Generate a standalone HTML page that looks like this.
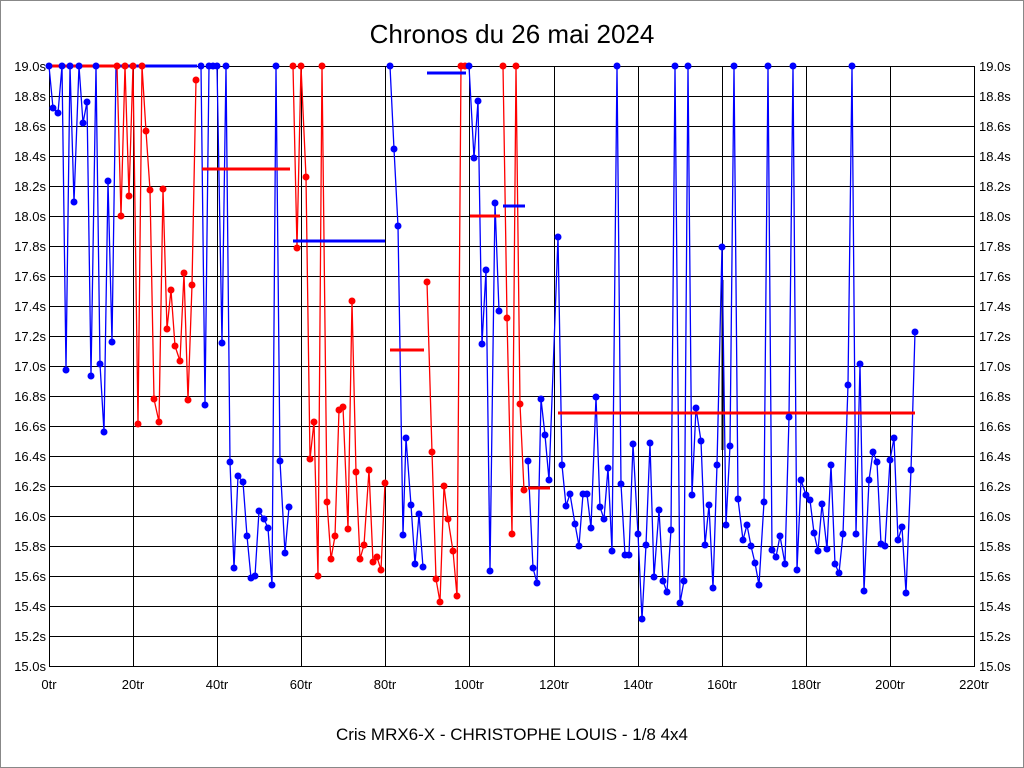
<!DOCTYPE html>
<html><head><meta charset="utf-8"><style>
html,body{margin:0;padding:0;background:#fff}
svg{display:block}
text{font-family:"Liberation Sans",Arial,sans-serif}
</style></head><body>
<svg width="1024" height="768" viewBox="0 0 1024 768" xmlns="http://www.w3.org/2000/svg">
<rect x="0.5" y="0.5" width="1023" height="767" fill="#fff" stroke="#888"/>
<text x="512" y="43" font-size="26" text-anchor="middle">Chronos du 26 mai 2024</text>
<text x="512" y="740" font-size="17" text-anchor="middle">Cris MRX6-X - CHRISTOPHE LOUIS - 1/8 4x4</text>
<g stroke="#000" stroke-width="1">
<rect x="49.5" y="66.5" width="925" height="600" fill="none"/>
<path d="M49 96.5H974M49 126.5H974M49 156.5H974M49 186.5H974M49 216.5H974M49 246.5H974M49 276.5H974M49 306.5H974M49 336.5H974M49 366.5H974M49 396.5H974M49 426.5H974M49 456.5H974M49 486.5H974M49 516.5H974M49 546.5H974M49 576.5H974M49 606.5H974M49 636.5H974"/>
<path d="M133.5 66V666M217.5 66V666M301.5 66V666M385.5 66V666M469.5 66V666M554.5 66V666M638.5 66V666M722.5 66V666M806.5 66V666M890.5 66V666"/>
<path d="M722.5 280V450" stroke-width="2"/>
</g>
<g font-size="13" text-anchor="end">
<text x="46" y="71">19.0s</text><text x="46" y="101">18.8s</text><text x="46" y="131">18.6s</text><text x="46" y="161">18.4s</text><text x="46" y="191">18.2s</text><text x="46" y="221">18.0s</text><text x="46" y="251">17.8s</text><text x="46" y="281">17.6s</text><text x="46" y="311">17.4s</text><text x="46" y="341">17.2s</text><text x="46" y="371">17.0s</text><text x="46" y="401">16.8s</text><text x="46" y="431">16.6s</text><text x="46" y="461">16.4s</text><text x="46" y="491">16.2s</text><text x="46" y="521">16.0s</text><text x="46" y="551">15.8s</text><text x="46" y="581">15.6s</text><text x="46" y="611">15.4s</text><text x="46" y="641">15.2s</text><text x="46" y="671">15.0s</text>
</g>
<g font-size="13" text-anchor="start">
<text x="979" y="71">19.0s</text><text x="979" y="101">18.8s</text><text x="979" y="131">18.6s</text><text x="979" y="161">18.4s</text><text x="979" y="191">18.2s</text><text x="979" y="221">18.0s</text><text x="979" y="251">17.8s</text><text x="979" y="281">17.6s</text><text x="979" y="311">17.4s</text><text x="979" y="341">17.2s</text><text x="979" y="371">17.0s</text><text x="979" y="401">16.8s</text><text x="979" y="431">16.6s</text><text x="979" y="461">16.4s</text><text x="979" y="491">16.2s</text><text x="979" y="521">16.0s</text><text x="979" y="551">15.8s</text><text x="979" y="581">15.6s</text><text x="979" y="611">15.4s</text><text x="979" y="641">15.2s</text><text x="979" y="671">15.0s</text>
</g>
<g font-size="13" text-anchor="middle">
<text x="49" y="689">0tr</text><text x="133" y="689">20tr</text><text x="217" y="689">40tr</text><text x="301" y="689">60tr</text><text x="385" y="689">80tr</text><text x="469" y="689">100tr</text><text x="554" y="689">120tr</text><text x="638" y="689">140tr</text><text x="722" y="689">160tr</text><text x="806" y="689">180tr</text><text x="890" y="689">200tr</text><text x="974" y="689">220tr</text>
</g>
<g fill="none" stroke-width="1.3" stroke-linejoin="round">
<g stroke="#00f" id="bl">
<polyline points="49,66 53,108 58,113 62,66 66,370 70,66 74,202 79,66 83,123 87,102 91,376 96,66 100,364 104,432 108,181 112,342 116,66"/>
<polyline points="201,66 205,405 209,66 213,66 217,66 222,343 226,66 230,462 234,568 238,476 243,482 247,536 251,578 255,576 259,511 264,519 268,528 272,585 276,66 280,461 285,553 289,507"/>
<polyline points="390,66 394,149 398,226 403,535 406,438 411,505 415,564 419,514 423,567"/>
<polyline points="469,66 474,158 478,101 482,344 486,270 490,571 495,203 499,311"/>
<polyline points="528,461 533,568 537,583 541,399 545,435 549,480 558,237 562,465 566,506 570,494 575,524 579,546 583,494 587,494 591,528 596,397 600,507 604,519 608,468 612,551 617,66 621,484 625,555 629,555 633,444 638,534 642,619 646,545 650,443 654,577 659,510 663,581 667,592 671,530 675,66 680,603 684,581 688,66 692,495 696,408 701,441 705,545 709,505 713,588 717,465 722,247 726,525 730,446 734,66 738,499 743,540 747,525 751,546 755,563 759,585 764,502 768,66 772,550 776,557 780,536 785,564 789,417 793,66 797,570 801,480 806,495 810,500 814,533 818,551 822,504 827,549 831,465 835,564 839,573 843,534 848,385 852,66 856,534 860,364 864,591 869,480 873,452 877,462 881,544 885,546 890,460 894,438 898,540 902,527 906,593 911,470 915,332"/>
</g>
<g stroke="#f00">
<polyline points="117,66 121,216 125,66 129,196 133,66 138,424 142,66 146,131 150,190 154,399 159,422 163,189 167,329 171,290 175,346 180,361 184,273 188,400 192,285 196,80"/>
<polyline points="293,66 297,248 301,66 306,177 310,459 314,422 318,576 322,66 327,502 331,559 335,536 339,410 343,407 348,529 352,301 356,472 360,559 364,545 369,470 373,562 377,557 381,570 385,483"/>
<polyline points="427,282 432,452 436,579 440,602 444,486 448,519 453,551 457,596 461,66 465,66"/>
<polyline points="503,66 507,318 512,534 516,66 520,404 524,490"/>
</g>
</g>
<g stroke-width="3">
<path stroke="#00f" d="M118 66H197M293 241H385M427 73H466M503 206H525"/>
<path stroke="#f00" d="M49 66H118M202 169H290M390 350H424M470 216H500M528 488H550M558 413H915"/>
</g>
<g fill="#f00">
<circle cx="117" cy="66" r="3.5"/><circle cx="121" cy="216" r="3.5"/><circle cx="125" cy="66" r="3.5"/><circle cx="129" cy="196" r="3.5"/><circle cx="133" cy="66" r="3.5"/><circle cx="138" cy="424" r="3.5"/><circle cx="142" cy="66" r="3.5"/><circle cx="146" cy="131" r="3.5"/><circle cx="150" cy="190" r="3.5"/><circle cx="154" cy="399" r="3.5"/><circle cx="159" cy="422" r="3.5"/><circle cx="163" cy="189" r="3.5"/><circle cx="167" cy="329" r="3.5"/><circle cx="171" cy="290" r="3.5"/><circle cx="175" cy="346" r="3.5"/><circle cx="180" cy="361" r="3.5"/><circle cx="184" cy="273" r="3.5"/><circle cx="188" cy="400" r="3.5"/><circle cx="192" cy="285" r="3.5"/><circle cx="196" cy="80" r="3.5"/>
<circle cx="293" cy="66" r="3.5"/><circle cx="297" cy="248" r="3.5"/><circle cx="301" cy="66" r="3.5"/><circle cx="306" cy="177" r="3.5"/><circle cx="310" cy="459" r="3.5"/><circle cx="314" cy="422" r="3.5"/><circle cx="318" cy="576" r="3.5"/><circle cx="322" cy="66" r="3.5"/><circle cx="327" cy="502" r="3.5"/><circle cx="331" cy="559" r="3.5"/><circle cx="335" cy="536" r="3.5"/><circle cx="339" cy="410" r="3.5"/><circle cx="343" cy="407" r="3.5"/><circle cx="348" cy="529" r="3.5"/><circle cx="352" cy="301" r="3.5"/><circle cx="356" cy="472" r="3.5"/><circle cx="360" cy="559" r="3.5"/><circle cx="364" cy="545" r="3.5"/><circle cx="369" cy="470" r="3.5"/><circle cx="373" cy="562" r="3.5"/><circle cx="377" cy="557" r="3.5"/><circle cx="381" cy="570" r="3.5"/><circle cx="385" cy="483" r="3.5"/>
<circle cx="427" cy="282" r="3.5"/><circle cx="432" cy="452" r="3.5"/><circle cx="436" cy="579" r="3.5"/><circle cx="440" cy="602" r="3.5"/><circle cx="444" cy="486" r="3.5"/><circle cx="448" cy="519" r="3.5"/><circle cx="453" cy="551" r="3.5"/><circle cx="457" cy="596" r="3.5"/><circle cx="461" cy="66" r="3.5"/><circle cx="465" cy="66" r="3.5"/>
<circle cx="503" cy="66" r="3.5"/><circle cx="507" cy="318" r="3.5"/><circle cx="512" cy="534" r="3.5"/><circle cx="516" cy="66" r="3.5"/><circle cx="520" cy="404" r="3.5"/><circle cx="524" cy="490" r="3.5"/>
</g>
<g fill="#00f">
<circle cx="49" cy="66" r="3.5"/><circle cx="53" cy="108" r="3.5"/><circle cx="58" cy="113" r="3.5"/><circle cx="62" cy="66" r="3.5"/><circle cx="66" cy="370" r="3.5"/><circle cx="70" cy="66" r="3.5"/><circle cx="74" cy="202" r="3.5"/><circle cx="79" cy="66" r="3.5"/><circle cx="83" cy="123" r="3.5"/><circle cx="87" cy="102" r="3.5"/><circle cx="91" cy="376" r="3.5"/><circle cx="96" cy="66" r="3.5"/><circle cx="100" cy="364" r="3.5"/><circle cx="104" cy="432" r="3.5"/><circle cx="108" cy="181" r="3.5"/><circle cx="112" cy="342" r="3.5"/>
<circle cx="201" cy="66" r="3.5"/><circle cx="205" cy="405" r="3.5"/><circle cx="209" cy="66" r="3.5"/><circle cx="213" cy="66" r="3.5"/><circle cx="217" cy="66" r="3.5"/><circle cx="222" cy="343" r="3.5"/><circle cx="226" cy="66" r="3.5"/><circle cx="230" cy="462" r="3.5"/><circle cx="234" cy="568" r="3.5"/><circle cx="238" cy="476" r="3.5"/><circle cx="243" cy="482" r="3.5"/><circle cx="247" cy="536" r="3.5"/><circle cx="251" cy="578" r="3.5"/><circle cx="255" cy="576" r="3.5"/><circle cx="259" cy="511" r="3.5"/><circle cx="264" cy="519" r="3.5"/><circle cx="268" cy="528" r="3.5"/><circle cx="272" cy="585" r="3.5"/><circle cx="276" cy="66" r="3.5"/><circle cx="280" cy="461" r="3.5"/><circle cx="285" cy="553" r="3.5"/><circle cx="289" cy="507" r="3.5"/>
<circle cx="390" cy="66" r="3.5"/><circle cx="394" cy="149" r="3.5"/><circle cx="398" cy="226" r="3.5"/><circle cx="403" cy="535" r="3.5"/><circle cx="406" cy="438" r="3.5"/><circle cx="411" cy="505" r="3.5"/><circle cx="415" cy="564" r="3.5"/><circle cx="419" cy="514" r="3.5"/><circle cx="423" cy="567" r="3.5"/>
<circle cx="469" cy="66" r="3.5"/><circle cx="474" cy="158" r="3.5"/><circle cx="478" cy="101" r="3.5"/><circle cx="482" cy="344" r="3.5"/><circle cx="486" cy="270" r="3.5"/><circle cx="490" cy="571" r="3.5"/><circle cx="495" cy="203" r="3.5"/><circle cx="499" cy="311" r="3.5"/>
<circle cx="528" cy="461" r="3.5"/><circle cx="533" cy="568" r="3.5"/><circle cx="537" cy="583" r="3.5"/><circle cx="541" cy="399" r="3.5"/><circle cx="545" cy="435" r="3.5"/><circle cx="549" cy="480" r="3.5"/><circle cx="558" cy="237" r="3.5"/><circle cx="562" cy="465" r="3.5"/><circle cx="566" cy="506" r="3.5"/><circle cx="570" cy="494" r="3.5"/><circle cx="575" cy="524" r="3.5"/><circle cx="579" cy="546" r="3.5"/><circle cx="583" cy="494" r="3.5"/><circle cx="587" cy="494" r="3.5"/><circle cx="591" cy="528" r="3.5"/><circle cx="596" cy="397" r="3.5"/><circle cx="600" cy="507" r="3.5"/><circle cx="604" cy="519" r="3.5"/><circle cx="608" cy="468" r="3.5"/><circle cx="612" cy="551" r="3.5"/><circle cx="617" cy="66" r="3.5"/><circle cx="621" cy="484" r="3.5"/><circle cx="625" cy="555" r="3.5"/><circle cx="629" cy="555" r="3.5"/><circle cx="633" cy="444" r="3.5"/><circle cx="638" cy="534" r="3.5"/><circle cx="642" cy="619" r="3.5"/><circle cx="646" cy="545" r="3.5"/><circle cx="650" cy="443" r="3.5"/><circle cx="654" cy="577" r="3.5"/><circle cx="659" cy="510" r="3.5"/><circle cx="663" cy="581" r="3.5"/><circle cx="667" cy="592" r="3.5"/><circle cx="671" cy="530" r="3.5"/><circle cx="675" cy="66" r="3.5"/><circle cx="680" cy="603" r="3.5"/><circle cx="684" cy="581" r="3.5"/><circle cx="688" cy="66" r="3.5"/><circle cx="692" cy="495" r="3.5"/><circle cx="696" cy="408" r="3.5"/><circle cx="701" cy="441" r="3.5"/><circle cx="705" cy="545" r="3.5"/><circle cx="709" cy="505" r="3.5"/><circle cx="713" cy="588" r="3.5"/><circle cx="717" cy="465" r="3.5"/><circle cx="722" cy="247" r="3.5"/><circle cx="726" cy="525" r="3.5"/><circle cx="730" cy="446" r="3.5"/><circle cx="734" cy="66" r="3.5"/><circle cx="738" cy="499" r="3.5"/><circle cx="743" cy="540" r="3.5"/><circle cx="747" cy="525" r="3.5"/><circle cx="751" cy="546" r="3.5"/><circle cx="755" cy="563" r="3.5"/><circle cx="759" cy="585" r="3.5"/><circle cx="764" cy="502" r="3.5"/><circle cx="768" cy="66" r="3.5"/><circle cx="772" cy="550" r="3.5"/><circle cx="776" cy="557" r="3.5"/><circle cx="780" cy="536" r="3.5"/><circle cx="785" cy="564" r="3.5"/><circle cx="789" cy="417" r="3.5"/><circle cx="793" cy="66" r="3.5"/><circle cx="797" cy="570" r="3.5"/><circle cx="801" cy="480" r="3.5"/><circle cx="806" cy="495" r="3.5"/><circle cx="810" cy="500" r="3.5"/><circle cx="814" cy="533" r="3.5"/><circle cx="818" cy="551" r="3.5"/><circle cx="822" cy="504" r="3.5"/><circle cx="827" cy="549" r="3.5"/><circle cx="831" cy="465" r="3.5"/><circle cx="835" cy="564" r="3.5"/><circle cx="839" cy="573" r="3.5"/><circle cx="843" cy="534" r="3.5"/><circle cx="848" cy="385" r="3.5"/><circle cx="852" cy="66" r="3.5"/><circle cx="856" cy="534" r="3.5"/><circle cx="860" cy="364" r="3.5"/><circle cx="864" cy="591" r="3.5"/><circle cx="869" cy="480" r="3.5"/><circle cx="873" cy="452" r="3.5"/><circle cx="877" cy="462" r="3.5"/><circle cx="881" cy="544" r="3.5"/><circle cx="885" cy="546" r="3.5"/><circle cx="890" cy="460" r="3.5"/><circle cx="894" cy="438" r="3.5"/><circle cx="898" cy="540" r="3.5"/><circle cx="902" cy="527" r="3.5"/><circle cx="906" cy="593" r="3.5"/><circle cx="911" cy="470" r="3.5"/><circle cx="915" cy="332" r="3.5"/>
</g>
</svg>
</body></html>
